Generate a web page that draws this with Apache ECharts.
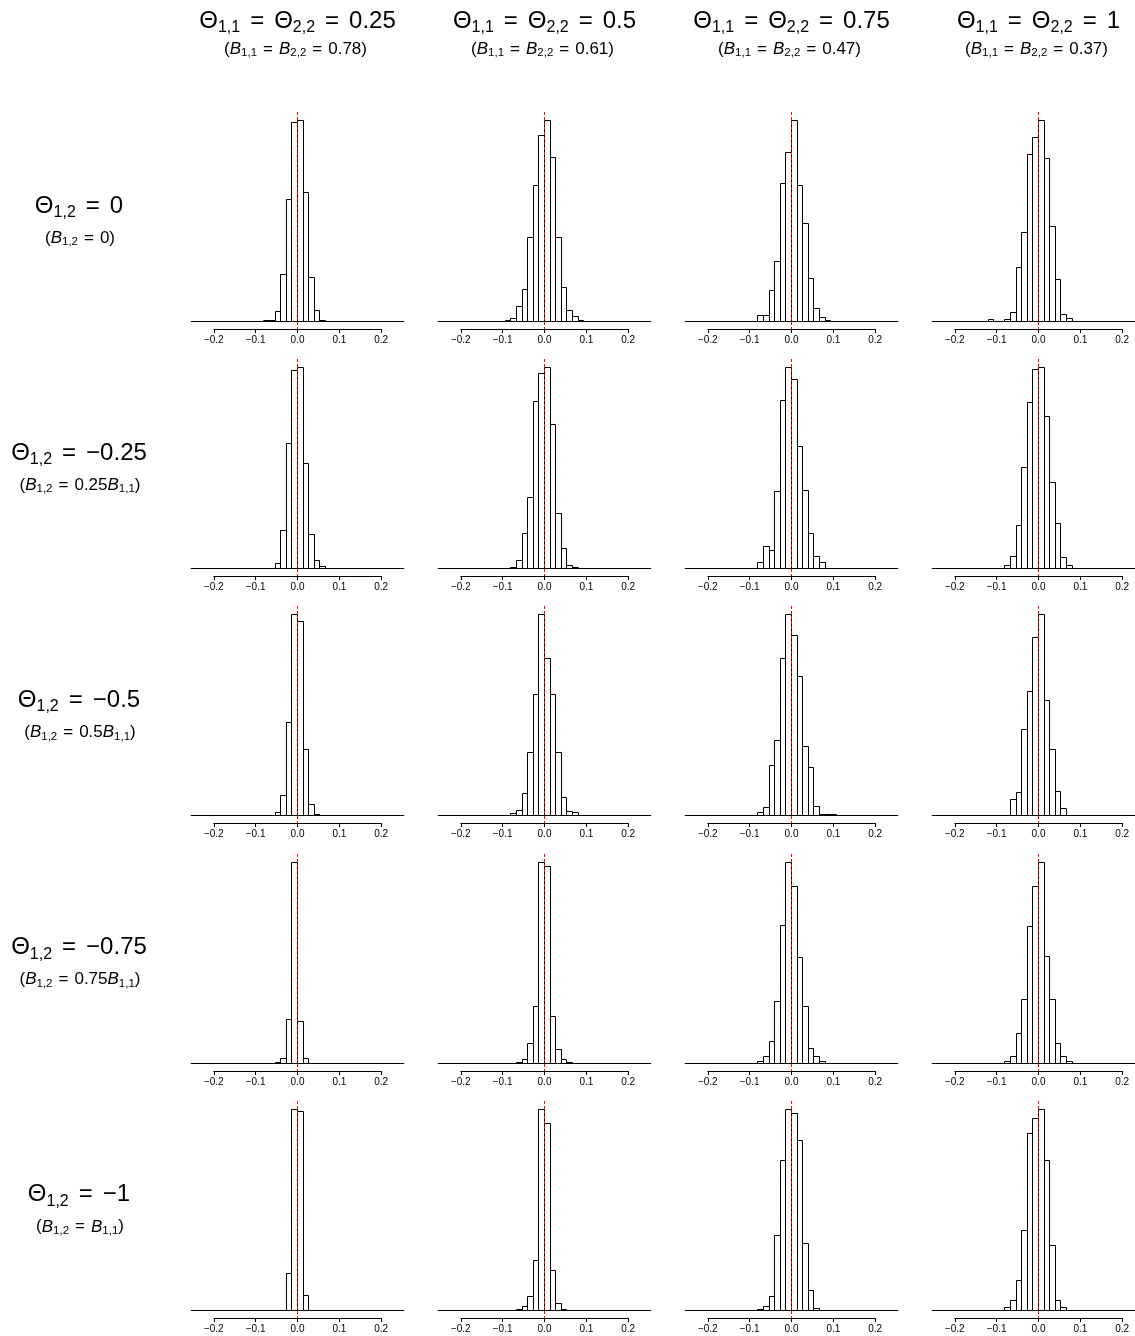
<!DOCTYPE html>
<html><head><meta charset="utf-8">
<script src="https://cdn.jsdelivr.net/npm/echarts@6/dist/echarts.min.js"></script>
<style>html,body{margin:0;padding:0;background:#fff}#c{width:1135px;height:1336px}</style>
</head><body><div id="c"></div>
<script>
// ---------------- DATA ----------------
const binWidth = 0.01335;                 // histogram bin width (bins aligned at 0)
const xTickValues = [-0.2, -0.1, 0, 0.1, 0.2];
const colTheta = ['0.25', '0.5', '0.75', '1'];
const colB = ['0.78', '0.61', '0.47', '0.37'];
const rowTheta = ['0', '\u22120.25', '\u22120.5', '\u22120.75', '\u22121'];
const rowBcoef = ['0', '0.25', '0.5', '0.75', '1'];
const trueValue = 0;

// index k of the first bin of each panel (bin k covers [k*w, (k+1)*w))
const firstBin = [
  [-6, -7, -6, -9],
  [-4, -6, -6, -6],
  [-4, -6, -6, -5],
  [-4, -5, -6, -6],
  [-2, -5, -6, -6]
];
// bin counts (arbitrary common scale)
const r1c1 = [3, 3, 30, 141, 366, 596, 603, 386, 131, 32, 3];
const r1c2 = [3, 8, 45, 95, 250, 408, 557, 603, 490, 250, 100, 31, 15, 3];
const r1c3 = [16, 16, 92, 178, 413, 506, 603, 408, 292, 127, 37, 11, 3];
const r1c4 = [6, 0, 0, 6, 27, 161, 265, 499, 551, 603, 487, 283, 125, 21, 9];
const r2c1 = [13, 114, 374, 592, 603, 315, 102, 22, 4];
const r2c2 = [3, 24, 103, 211, 501, 584, 603, 430, 165, 59, 8, 3];
const r2c3 = [18, 64, 54, 231, 503, 603, 567, 366, 234, 104, 34, 18];
const r2c4 = [9, 36, 129, 301, 496, 597, 603, 456, 258, 135, 33, 9];
const r3c1 = [9, 58, 278, 603, 581, 198, 33, 3];
const r3c2 = [4, 15, 65, 189, 363, 603, 469, 363, 187, 54, 12, 7];
const r3c3 = [8, 23, 149, 225, 469, 603, 540, 417, 206, 144, 26, 2, 2, 2];
const r3c4 = [48, 68, 257, 372, 533, 603, 344, 198, 70, 21];
const r4c1 = [3, 15, 132, 603, 126, 15];
const r4c2 = [3, 12, 60, 170, 603, 590, 140, 40, 12, 3];
const r4c3 = [5, 20, 66, 186, 414, 603, 530, 318, 170, 45, 20, 5];
const r4c4 = [5, 20, 90, 190, 410, 530, 603, 320, 190, 60, 20, 6];
const r5c1 = [111, 603, 597, 45];
const r5c2 = [3, 10, 40, 150, 603, 560, 120, 20, 3];
const r5c3 = [3, 10, 40, 225, 450, 603, 590, 510, 200, 60, 5];
const r5c4 = [8, 30, 90, 240, 530, 575, 603, 450, 195, 30, 8];

const panelCounts = [
  [r1c1, r1c2, r1c3, r1c4],
  [r2c1, r2c2, r2c3, r2c4],
  [r3c1, r3c2, r3c3, r3c4],
  [r4c1, r4c2, r4c3, r4c4],
  [r5c1, r5c2, r5c3, r5c4]
];

// ---------------- LAYOUT ----------------
const FONT = '"Liberation Sans", Arial, Helvetica, sans-serif';
const PX = 418.5;            // pixels per data unit on x
const XLIM = 0.254;          // half-width of plotting region (data units)
const H = 201;               // pixel height of tallest bar
const col0 = 297.5, colStep = 247;
const row0 = 321, rowStep = 247.2;

const grids = [], xAxes = [], yAxes = [], series = [], graphics = [];

const fmt = v => (v < 0 ? '\u2212' : '') + Math.abs(v).toFixed(1);
const crisp = p => Math.floor(p + 0.01) + 0.5;

for (let r = 0; r < 5; r++) {
  for (let c = 0; c < 4; c++) {
    const cx = col0 + c * colStep;
    const base = Math.round(row0 + r * rowStep);
    const counts = panelCounts[r][c];
    const k0 = firstBin[r][c];
    const M = Math.max(...counts);
    const data = counts.map((v, i) => [(k0 + i) * binWidth, (k0 + i + 1) * binWidth, v]);

    // histogram grid
    const gi = grids.length;
    grids.push({left: cx - XLIM * PX, top: base - 1.04 * H, width: 2 * XLIM * PX, height: 1.08 * H,
      containLabel: false, outerBoundsMode: 'none'});
    xAxes.push({type: 'value', gridIndex: gi, min: -XLIM, max: XLIM,
      axisLine: {show: true, onZero: true, lineStyle: {color: '#000', width: 1}},
      axisTick: {show: false}, axisLabel: {show: false}, splitLine: {show: false}});
    yAxes.push({type: 'value', gridIndex: gi, min: -0.04 * M, max: 1.04 * M, show: false, splitLine: {show: false}});
    series.push({
      type: 'custom', xAxisIndex: gi, yAxisIndex: gi, z: 2, data: data, silent: true,
      encode: {x: [0, 1], y: 2},
      renderItem: function (params, api) {
        const p0 = api.coord([api.value(0), api.value(2)]);
        const p1 = api.coord([api.value(1), 0]);
        const x0 = crisp(p0[0]), x1 = crisp(p1[0]);
        const y0 = crisp(p0[1]), y1 = crisp(p1[1]);
        return {type: 'rect', shape: {x: x0, y: y0, width: x1 - x0, height: y1 - y0},
          style: {fill: '#fff', stroke: '#000', lineWidth: 1}};
      }
    });
    // red dashed vertical reference line at the true value, full plot height
    series.push({
      type: 'custom', xAxisIndex: gi, yAxisIndex: gi, z: 5, data: [[trueValue]], silent: true,
      encode: {x: 0},
      renderItem: function (params, api) {
        const p = api.coord([api.value(0), 0]);
        const cs = params.coordSys;
        const x = crisp(p[0]);
        return {type: 'line', shape: {x1: x, y1: cs.y, x2: x, y2: cs.y + cs.height},
          style: {stroke: '#ff0000', lineWidth: 1, lineDash: [3, 2]}};
      }
    });

    // axis grid (axis line only from -0.2 to 0.2, like R)
    const ai = grids.length;
    grids.push({left: cx - 0.2 * PX, top: base + 0.04 * H - 30, width: 0.4 * PX, height: 30,
      containLabel: false, outerBoundsMode: 'none'});
    xAxes.push({type: 'value', gridIndex: ai, min: -0.2, max: 0.2, interval: 0.1, position: 'bottom',
      axisLine: {show: true, onZero: false, lineStyle: {color: '#000', width: 1}},
      axisTick: {show: true, inside: false, length: 4, lineStyle: {color: '#000', width: 1}},
      axisLabel: {show: true, margin: 6, fontSize: 10, color: '#000', fontFamily: FONT,
        showMinLabel: true, showMaxLabel: true, hideOverlap: false, formatter: fmt},
      splitLine: {show: false}});
    yAxes.push({type: 'value', gridIndex: ai, min: 0, max: 1, show: false, splitLine: {show: false}});
  }
}

// ---------------- TITLES ----------------
const richBig = {
  t: {fontSize: 24, fontFamily: FONT, fill: '#000'},
  eq: {fontSize: 24, fontFamily: FONT, fill: '#000', padding: [0, 10, 0, 10]},
  ts: {fontSize: 16, fontFamily: FONT, fill: '#000', padding: [13, 0, 0, 0]},
  s: {fontSize: 17, fontFamily: FONT, fill: '#000'},
  seq: {fontSize: 17, fontFamily: FONT, fill: '#000', padding: [0, 6, 0, 6]},
  si: {fontSize: 17, fontFamily: FONT, fill: '#000', fontStyle: 'italic'},
  ss: {fontSize: 11.5, fontFamily: FONT, fill: '#000', padding: [8, 0, 0, 0]}
};

function textEl(x, y, text) {
  return {type: 'text', x: x, y: y, silent: true,
    style: {text: text, align: 'center', verticalAlign: 'middle', fontFamily: FONT, fontSize: 24, fill: '#000', rich: richBig}};
}

for (let c = 0; c < 4; c++) {
  const cx = col0 + c * colStep;
  graphics.push(textEl(cx, 21,
    '{t|\u0398}{ts|1,1}{eq|=}{t|\u0398}{ts|2,2}{eq|=}{t|' + colTheta[c] + '}'));
  graphics.push(textEl(cx - 2, 49,
    '{s|(}{si|B}{ss|1,1}{seq|=}{si|B}{ss|2,2}{seq|=}{s|' + colB[c] + ')}'));
}
for (let r = 0; r < 5; r++) {
  const cy = 220 + r * rowStep;
  graphics.push(textEl(79, cy - 14,
    '{t|\u0398}{ts|1,2}{eq|=}{t|' + rowTheta[r] + '}'));
  let rhs;
  if (rowBcoef[r] === '0') rhs = '{s|0}';
  else if (rowBcoef[r] === '1') rhs = '{si|B}{ss|1,1}';
  else rhs = '{s|' + rowBcoef[r] + '}{si|B}{ss|1,1}';
  graphics.push(textEl(80, cy + 18,
    '{s|(}{si|B}{ss|1,2}{seq|=}' + rhs + '{s|)}'));
}

const chart = echarts.init(document.getElementById('c'), null, {renderer: 'canvas'});
chart.setOption({
  backgroundColor: '#fff',
  animation: false,
  grid: grids,
  xAxis: xAxes,
  yAxis: yAxes,
  series: series,
  graphic: graphics
});
</script>
</body></html>
